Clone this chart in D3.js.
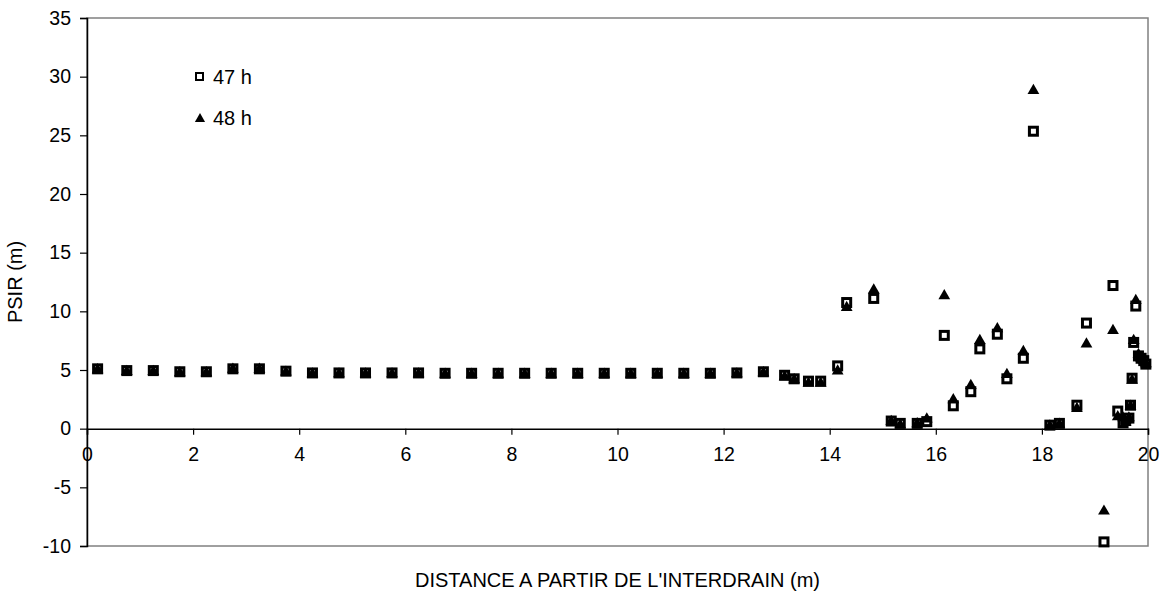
<!DOCTYPE html>
<html>
<head>
<meta charset="utf-8">
<script src="https://cdn.jsdelivr.net/npm/d3@7"></script>
<style>
  body { margin: 0; background: #fff; }
  text { font-family: Arial, "Liberation Sans", sans-serif; fill: #000; }
</style>
</head>
<body>
<div id="chart"></div>
<script>
// data
const distance = [0.2, 0.75, 1.25, 1.75, 2.25, 2.75, 3.25, 3.75, 4.25, 4.75, 5.25, 5.75, 6.25, 6.75, 7.25, 7.75, 8.25, 8.75, 9.25, 9.75, 10.25, 10.75, 11.25, 11.75, 12.25, 12.75, 13.15, 13.33, 13.6, 13.83, 14.15, 14.32, 14.83, 15.16, 15.33, 15.65, 15.83, 16.16, 16.33, 16.66, 16.83, 17.16, 17.34, 17.65, 17.84, 18.15, 18.33, 18.66, 18.84, 19.17, 19.34, 19.43, 19.53, 19.58, 19.64, 19.67, 19.7, 19.73, 19.77, 19.82, 19.87, 19.92, 19.96];
const psir47 = [5.1, 4.95, 4.95, 4.85, 4.85, 5.1, 5.1, 4.9, 4.75, 4.75, 4.75, 4.75, 4.75, 4.72, 4.72, 4.72, 4.72, 4.72, 4.72, 4.72, 4.72, 4.72, 4.72, 4.72, 4.75, 4.85, 4.55, 4.25, 4.05, 4.05, 5.35, 10.75, 11.1, 0.65, 0.45, 0.45, 0.6, 7.95, 1.95, 3.15, 6.8, 8.05, 4.25, 6.0, 25.35, 0.3, 0.45, 2.0, 9.0, -9.65, 12.2, 1.5, 0.5, 0.8, 0.9, 2.0, 4.3, 7.35, 10.45, 6.2, 6.0, 5.8, 5.5];
const psir48 = [5.1, 4.95, 4.95, 4.85, 4.85, 5.15, 5.15, 4.9, 4.75, 4.75, 4.75, 4.75, 4.75, 4.72, 4.72, 4.72, 4.72, 4.72, 4.72, 4.72, 4.72, 4.72, 4.72, 4.72, 4.75, 4.85, 4.5, 4.25, 3.95, 3.95, 5.0, 10.4, 11.9, 0.7, 0.4, 0.5, 0.9, 11.4, 2.55, 3.75, 7.6, 8.6, 4.7, 6.65, 28.9, 0.3, 0.45, 1.8, 7.3, -6.95, 8.45, 1.1, 1.0, 0.6, 1.0, 2.0, 4.2, 7.6, 11.0, 6.4, 6.1, 5.9, 5.6];
const seriesNames = ['47 h', '48 h'];
const xTicks = [0, 2, 4, 6, 8, 10, 12, 14, 16, 18, 20];
const yTicks = [-10, -5, 0, 5, 10, 15, 20, 25, 30, 35];

const width = 1162;
const height = 593;
const margin = {top: 18, right: 14, bottom: 47, left: 87};
const graphWidth = width - margin.left - margin.right;
const graphHeight = height - margin.top - margin.bottom;

const xScale = d3.scaleLinear().domain([0, 20]).range([0, graphWidth]);
const yScale = d3.scaleLinear().domain([-10, 35]).range([graphHeight, 0]);

const svg = d3.select('#chart')
    .append('svg')
    .attr('width', width)
    .attr('height', height);

const graph = svg.append('g')
    .attr('transform', `translate(${margin.left}, ${margin.top})`);

// plot area border (grey)
graph.append('rect')
    .attr('x', 0).attr('y', 0)
    .attr('width', graphWidth).attr('height', graphHeight)
    .attr('fill', 'none')
    .attr('stroke', '#808080')
    .attr('stroke-width', 1.5);

// y axis
const yAxis = d3.axisLeft(yScale)
    .tickValues(yTicks)
    .tickSize(7)
    .tickPadding(9)
    .tickFormat(d => d);

const yG = graph.append('g').call(yAxis);
yG.select('.domain').attr('stroke', '#000').attr('stroke-width', 1.5);
yG.selectAll('.tick line').attr('stroke', '#000').attr('stroke-width', 1.2);
yG.selectAll('text').style('font-size', '19.5px').attr('fill', '#000');

// x axis at y = 0
const xAxis = d3.axisBottom(xScale)
    .tickValues(xTicks)
    .tickSize(6)
    .tickPadding(12)
    .tickFormat(d => d);

const xG = graph.append('g')
    .attr('transform', `translate(0, ${yScale(0)})`)
    .call(xAxis);
xG.select('.domain').attr('stroke', '#000').attr('stroke-width', 1.5);
xG.selectAll('.tick line').attr('stroke', '#000').attr('stroke-width', 1.2);
xG.selectAll('text').style('font-size', '19.5px').attr('fill', '#000');

// points
const pts47 = distance.map((d, i) => ({x: d, y: psir47[i]}));
const pts48 = distance.map((d, i) => ({x: d, y: psir48[i]}));

const sq = 8;
graph.append('g').selectAll('rect')
    .data(pts47)
    .enter().append('rect')
    .attr('x', d => xScale(d.x) - sq / 2)
    .attr('y', d => yScale(d.y) - sq / 2)
    .attr('width', sq).attr('height', sq)
    .attr('fill', '#fff')
    .attr('stroke', '#000')
    .attr('stroke-width', 3);

const tri = d3.symbol().type(d3.symbolTriangle).size(60);
graph.append('g').selectAll('path')
    .data(pts48)
    .enter().append('path')
    .attr('d', tri)
    .attr('transform', d => `translate(${xScale(d.x)}, ${yScale(d.y) + 1})`)
    .attr('fill', '#000');

// legend
const legend = svg.append('g').attr('transform', 'translate(200, 77)');
legend.append('rect')
    .attr('x', -4).attr('y', -4)
    .attr('width', 7).attr('height', 7)
    .attr('fill', '#fff').attr('stroke', '#000').attr('stroke-width', 2);
legend.append('text')
    .attr('x', 13).attr('y', 7)
    .style('font-size', '20px')
    .text(seriesNames[0]);
legend.append('path')
    .attr('d', d3.symbol().type(d3.symbolTriangle).size(45))
    .attr('transform', 'translate(0, 42)');
legend.append('text')
    .attr('x', 13).attr('y', 48)
    .style('font-size', '20px')
    .text(seriesNames[1]);

// axis titles
svg.append('text')
    .attr('x', margin.left + graphWidth / 2)
    .attr('y', 587)
    .attr('text-anchor', 'middle')
    .style('font-size', '20px')
    .text("DISTANCE A PARTIR DE L'INTERDRAIN (m)");

svg.append('text')
    .attr('transform', `translate(22, ${margin.top + graphHeight / 2}) rotate(-90)`)
    .attr('text-anchor', 'middle')
    .style('font-size', '20px')
    .text('PSIR (m)');
</script>
</body>
</html>
